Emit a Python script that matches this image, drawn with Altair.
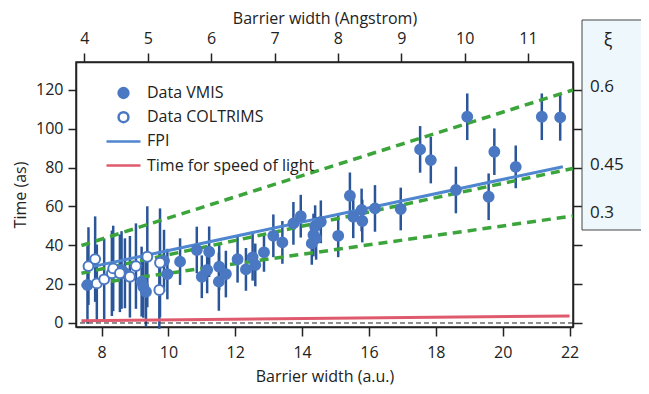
import altair as alt
import pandas as pd

# ---------------- data ----------------
# COLTRIMS (open circles)
co_x = [7.61, 7.81, 7.86, 8.08, 8.31, 8.35, 8.55, 8.85, 9.03, 9.37, 9.73, 9.75]
co_y = [29.3, 32.9, 20.4, 22.5, 25.6, 28.1, 25.6, 23.8, 29.3, 34.1, 17.0, 31.0]
co_e = [20, 22, 20, 21, 22, 22, 20, 21, 22, 26, 20, 28]

# VMIS (filled circles)
vm_x = [7.58, 8.60, 8.70, 9.20, 9.25, 9.33, 9.87, 9.97, 10.35, 10.85, 11.00, 11.16,
        11.22, 11.51, 11.52, 11.72, 12.07, 12.32, 12.52, 12.60, 12.86, 13.14, 13.41,
        13.74, 13.96, 14.29, 14.34, 14.39, 14.42, 14.56, 15.08, 15.43, 15.53, 15.78,
        15.80, 16.18, 16.95, 17.53, 17.85, 18.60, 18.94, 19.58, 19.75, 20.39, 21.17, 21.72]
vm_y = [19.6, 27.3, 25.6, 21.3, 18.7, 16.1, 32.0, 25.2, 31.6, 37.6, 23.8, 27.3,
        36.7, 21.3, 29.0, 25.2, 32.8, 27.6, 33.8, 29.9, 36.4, 44.9, 41.5,
        51.3, 55.0, 41.0, 45.3, 49.6, 43.6, 52.1, 44.9, 65.5, 54.7, 58.2,
        52.5, 59.0, 58.7, 89.4, 83.9, 68.5, 106.2, 65.0, 88.2, 80.4, 106.2, 105.9]
vm_e = [20, 20, 18, 18, 16, 18, 16, 13, 12, 12, 11, 12,
        13, 15, 12, 12, 12, 11, 12, 11, 10, 11, 11,
        11, 11, 11, 11, 11, 11, 11, 11, 12, 11, 11,
        11, 12, 11, 12, 12, 12, 12, 12, 12, 11, 12, 12]

# lines (end points)
fpi_x = [7.45, 21.8]
fpi_y = [28.0, 80.5]
light_x = [7.4, 22.0]
light_y = [1.2, 3.6]
xi_labels = ["0.6", "0.45", "0.3"]
xi_x0 = [7.4, 7.4, 7.4]
xi_y0 = [39.9, 25.6, 19.3]
xi_x1 = [22.1, 22.1, 22.1]
xi_y1 = [120.0, 79.6, 55.1]

x_ticks = [8, 10, 12, 14, 16, 18, 20, 22]
y_ticks = [0, 20, 40, 60, 80, 100, 120]
ang_ticks = [4, 5, 6, 7, 8, 9, 10, 11]

series = ["Data VMIS", "Data COLTRIMS", "FPI", "Time for speed of light"]

# ---------------- styling ----------------
XDOM = [7.237, 22.103]
YDOM = [-2.06, 134.4]
ADOM = [3.867, 11.71]
FONT = "Open Sans"
INK = "#222222"
PT = "#4a78c2"
BAR = "#2a5599"
FPI_C = "#4f86cf"
RED = "#e05a6e"
GREEN = "#3ba53b"
CIRCLE = "M-0.29,0A0.29,0.29 0 1,0 0.29,0A0.29,0.29 0 1,0 -0.29,0Z"

pts = pd.concat([
    pd.DataFrame({"x": vm_x, "y": vm_y, "err": vm_e, "series": "Data VMIS"}),
    pd.DataFrame({"x": co_x, "y": co_y, "err": co_e, "series": "Data COLTRIMS"}),
], ignore_index=True)

xscale = alt.Scale(domain=XDOM, nice=False, zero=False)
yscale = alt.Scale(domain=YDOM, nice=False, zero=False)
xaxis = alt.Axis(values=x_ticks, title="Barrier width (a.u.)", tickSize=9,
                 labelPadding=8, titlePadding=8, grid=False)
yaxis = alt.Axis(values=y_ticks, title="Time (as)", tickSize=8,
                 labelPadding=5, titlePadding=7, grid=False)


def X(f):
    return alt.X(f, type="quantitative", scale=xscale, axis=xaxis)


def Y(f):
    return alt.Y(f, type="quantitative", scale=yscale, axis=yaxis)


bars = alt.Chart(pts).transform_calculate(
    lo="datum.y - datum.err", hi="datum.y + datum.err"
).mark_rule(color=BAR, strokeWidth=2.5).encode(x=X("x"), y=Y("lo"), y2="hi:Q")

xi_df = pd.DataFrame({"label": xi_labels, "x": xi_x0, "y": xi_y0, "x2": xi_x1, "y2": xi_y1})
green = alt.Chart(xi_df).mark_rule(color=GREEN, strokeWidth=3.5, strokeDash=[9, 6]).encode(
    x=X("x"), y=Y("y"), x2="x2:Q", y2="y2:Q")

fpi = alt.Chart(pd.DataFrame({"x": fpi_x, "y": fpi_y})).mark_line(
    color=FPI_C, strokeWidth=3).encode(x=X("x"), y=Y("y"))
light = alt.Chart(pd.DataFrame({"x": light_x, "y": light_y})).mark_line(
    color=RED, strokeWidth=3).encode(x=X("x"), y=Y("y"))
zero = alt.Chart(pd.DataFrame({"y": [0]})).mark_rule(
    color=INK, strokeWidth=1, strokeDash=[5, 3]).encode(y=Y("y"))

legend = alt.Legend(orient="none", legendX=29, legendY=20, title=None,
                    labelFont=FONT, labelFontSize=16, labelColor=INK, labelLimit=400,
                    symbolSize=1156, symbolStrokeWidth=2.5, labelOffset=5,
                    clipHeight=22, rowPadding=2.2, padding=0)
points = alt.Chart(pts).mark_point(filled=True, size=1156, strokeWidth=2, opacity=1).encode(
    x=X("x"), y=Y("y"),
    fill=alt.Fill("series:N", scale=alt.Scale(domain=series, range=[PT, "white", "transparent", "transparent"]), legend=legend),
    stroke=alt.Stroke("series:N", scale=alt.Scale(domain=series, range=[PT, PT, FPI_C, RED]), legend=legend),
    shape=alt.Shape("series:N", scale=alt.Scale(domain=series, range=[CIRCLE, CIRCLE, "stroke", "stroke"]), legend=legend),
)

box = alt.Chart(pd.DataFrame({"k": [0]})).mark_rect(
    fill="#eef8fc", stroke="#444444", strokeWidth=1).encode(
    x=alt.value(506), x2=alt.value(640), y=alt.value(-42), y2=alt.value(168))
xi_head = alt.Chart(pd.DataFrame({"t": ["ξ"]})).mark_text(
    font=FONT, fontSize=18, color=INK, align="center", baseline="middle").encode(
    x=alt.value(532), y=alt.value(-21), text="t:N")
xi_text = alt.Chart(xi_df).mark_text(
    font=FONT, fontSize=17, color=INK, align="left", baseline="middle", dy=-3).encode(
    x=alt.value(514), y=Y("y2"), text="label:N")

main = alt.layer(box, xi_head, xi_text, bars, green, fpi, light, zero, points)

top = alt.Chart(pd.DataFrame({"A": ang_ticks})).mark_point(opacity=0).encode(
    x=alt.X("A:Q", scale=alt.Scale(domain=ADOM, nice=False, zero=False),
            axis=alt.Axis(orient="top", values=ang_ticks, title="Barrier width (Angstrom)",
                          tickSize=9, labelPadding=7, titlePadding=4, grid=False)),
    y=alt.value(0))

right = alt.Chart(pd.DataFrame({"t": y_ticks})).mark_point(opacity=0).encode(
    x=alt.value(0),
    y=alt.Y("t:Q", scale=alt.Scale(domain=YDOM, nice=False, zero=False),
            axis=alt.Axis(orient="right", values=y_ticks, labels=False, title=None,
                          tickSize=9, grid=False)))

chart = alt.layer(main, top, right).resolve_scale(
    x="independent", y="independent"
).properties(
    width=497, height=265,
    padding={"left": 68, "top": 54, "right": 68, "bottom": 59},
    autosize=alt.AutoSizeParams(type="none"),
).configure_view(stroke=INK, strokeWidth=1.5).configure_axis(
    labelFont=FONT, labelFontSize=16, labelColor=INK,
    titleFont=FONT, titleFontSize=16, titleFontWeight="normal", titleColor=INK,
    tickColor=INK, domainColor=INK, tickWidth=1.5, domainWidth=1.5,
)

chart.save("out.html", embed_options={"renderer": "svg", "actions": False})
